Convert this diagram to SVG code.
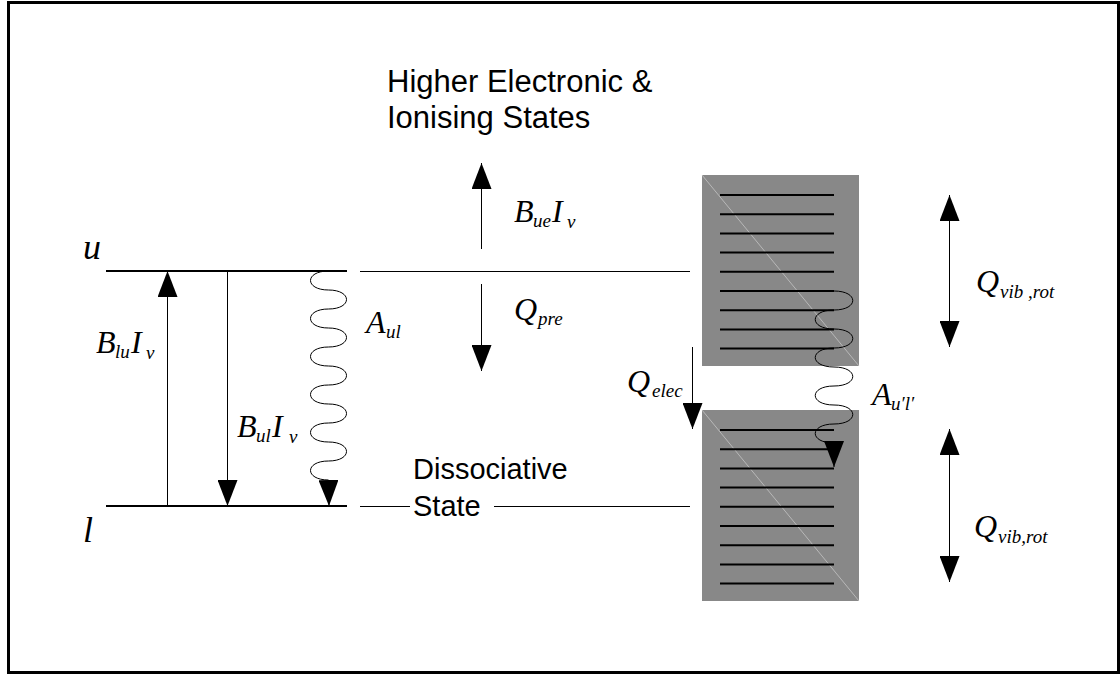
<svg xmlns="http://www.w3.org/2000/svg" width="1120" height="675" viewBox="0 0 1120 675">
<defs>
<marker id="ah" markerWidth="26" markerHeight="20" refX="26" refY="10" orient="auto-start-reverse" markerUnits="userSpaceOnUse"><path d="M0,0 L26,10 L0,20 Z" fill="#000"/></marker>
<style>
.sans{font-family:"Liberation Sans",Arial,sans-serif;font-size:31px;fill:#000}
.m{font-family:"Liberation Serif","Times New Roman",serif;font-style:italic;font-size:32px;fill:#000}
.big{font-size:36px}
.s{font-size:19px}
.lvl{stroke:#000;stroke-width:2}
.thin{stroke:#000;stroke-width:1;fill:none}
.conn{stroke:#000;stroke-width:1;fill:none;marker-end:url(#ah)}
.dbl{stroke:#000;stroke-width:1;fill:none;marker-start:url(#ah);marker-end:url(#ah)}
.box{fill:#888888}
.diag{stroke:#c4c4c4;stroke-width:0.8}
.bl{stroke:#000;stroke-width:2}
</style>
</defs>
<rect width="1120" height="675" fill="#fff"/>
<rect x="8.5" y="2.5" width="1110" height="670" fill="none" stroke="#000" stroke-width="3"/>

<g id="title">
<text class="sans" x="387" y="92">Higher Electronic &amp;</text>
<text class="sans" x="387" y="128">Ionising States</text>
</g>

<g id="level-u">
<line class="lvl" x1="106" y1="271" x2="347" y2="271"/>
<line class="thin" x1="360" y1="271.5" x2="690" y2="271.5"/>
<text class="m big" x="83" y="259">u</text>
</g>
<g id="level-l">
<line class="lvl" x1="106" y1="506" x2="347" y2="506"/>
<line class="thin" x1="360" y1="506.5" x2="690" y2="506.5"/>
<text class="m big" x="83" y="542">l</text>
</g>

<g id="dissociative">
<rect x="410" y="490" width="84" height="32" fill="#fff"/>
<text class="sans" x="413" y="479" style="font-size:29px">Dissociative</text>
<text class="sans" x="413" y="516" style="font-size:29px">State</text>
</g>

<g id="band-upper">
<rect class="box" x="702" y="175" width="157" height="191"/>
<line class="diag" x1="702" y1="175" x2="859" y2="366"/>
<g class="bl">
<line x1="720" y1="195" x2="834" y2="195"/>
<line x1="720" y1="214.2" x2="834" y2="214.2"/>
<line x1="720" y1="233.4" x2="834" y2="233.4"/>
<line x1="720" y1="252.6" x2="834" y2="252.6"/>
<line x1="720" y1="271.8" x2="834" y2="271.8"/>
<line x1="720" y1="291" x2="834" y2="291"/>
<line x1="720" y1="310.2" x2="834" y2="310.2"/>
<line x1="720" y1="329.4" x2="834" y2="329.4"/>
<line x1="720" y1="348.6" x2="834" y2="348.6"/>
</g>
</g>

<g id="band-lower">
<rect class="box" x="702" y="410" width="157" height="191"/>
<line class="diag" x1="702" y1="410" x2="859" y2="601"/>
<g class="bl">
<line x1="720" y1="430" x2="834" y2="430"/>
<line x1="720" y1="449.2" x2="834" y2="449.2"/>
<line x1="720" y1="468.4" x2="834" y2="468.4"/>
<line x1="720" y1="487.6" x2="834" y2="487.6"/>
<line x1="720" y1="506.8" x2="834" y2="506.8"/>
<line x1="720" y1="526" x2="834" y2="526"/>
<line x1="720" y1="545.2" x2="834" y2="545.2"/>
<line x1="720" y1="564.4" x2="834" y2="564.4"/>
<line x1="720" y1="583.6" x2="834" y2="583.6"/>
</g>
</g>

<g id="connectors">
<line class="conn" x1="167.5" y1="506" x2="167.5" y2="271"/>
<line class="conn" x1="227.5" y1="271" x2="227.5" y2="506"/>
<path class="conn" d="M328.5,271 c-24,0 -24,19 0,19 c24,0 24,19 0,19 c-24,0 -24,19 0,19 c24,0 24,19 0,19 c-24,0 -24,19 0,19 c24,0 24,19 0,19 c-24,0 -24,19 0,19 c24,0 24,19 0,19 c-24,0 -24,19 0,19 c24,0 24,19 0,19 c-24,0 -24,19 0,19 l0.5,26"/>
<line class="conn" x1="481.5" y1="249" x2="481.5" y2="163"/>
<line class="conn" x1="481.5" y1="284" x2="481.5" y2="371"/>
<line class="conn" x1="692.5" y1="347" x2="692.5" y2="429"/>
<path class="conn" d="M834,291 c25,0 25,19 0,19 c-25,0 -25,19 0,19 c25,0 25,19 0,19 c-25,0 -25,19 0,19 c25,0 25,19 0,19 c-25,0 -25,19 0,19 c25,0 25,19 0,19 c-25,0 -25,19 0,19 l0,24"/>
<line class="dbl" x1="949.5" y1="195" x2="949.5" y2="347"/>
<line class="dbl" x1="949.5" y1="429" x2="949.5" y2="582"/>
</g>

<g id="labels">
<text class="m" x="96" y="353">B<tspan class="s" x="115" y="358">lu</tspan><tspan x="131" y="353">I</tspan><tspan class="s" x="146" y="359">v</tspan></text>
<text class="m" x="237" y="437">B<tspan class="s" x="256" y="442">ul</tspan><tspan x="272" y="437">I</tspan><tspan class="s" x="289" y="443">v</tspan></text>
<text class="m" x="366" y="333">A<tspan class="s" x="386" y="338">ul</tspan></text>
<text class="m" x="514" y="222">B<tspan class="s" x="533" y="227">ue</tspan><tspan x="552" y="222">I</tspan><tspan class="s" x="567" y="228">v</tspan></text>
<text class="m" x="514" y="320">Q<tspan class="s" x="538" y="325">pre</tspan></text>
<text class="m" x="627" y="392">Q<tspan class="s" x="652" y="397">elec</tspan></text>
<text class="m" x="872" y="405">A<tspan class="s" x="891" y="410">u′l′</tspan></text>
<text class="m" x="976" y="292">Q<tspan class="s" x="1000" y="298">vib ,rot</tspan></text>
<text class="m" x="974" y="537">Q<tspan class="s" x="998" y="543">vib,rot</tspan></text>
</g>
</svg>
